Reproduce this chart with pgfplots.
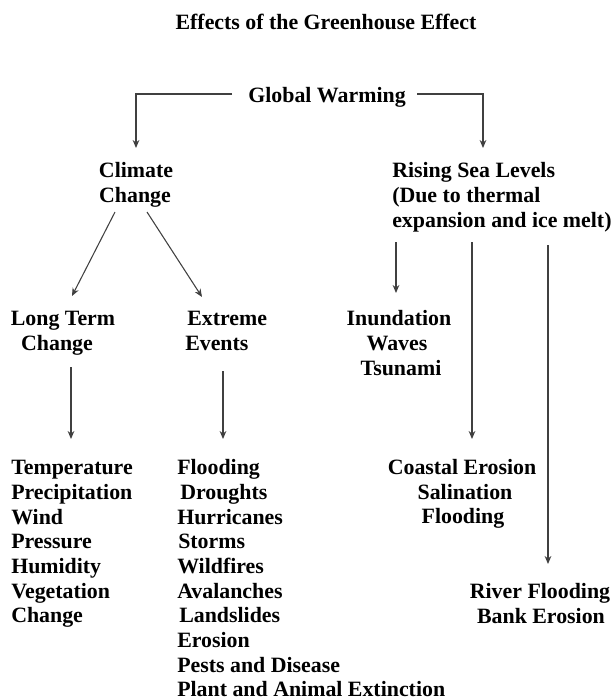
\documentclass[border=0pt]{standalone}
\usepackage{pgfplots}
\pgfplotsset{compat=1.18}
\usepackage{fontspec}
\setmainfont{Liberation Serif}
\usetikzlibrary{arrows.meta}
\begin{document}
\begin{tikzpicture}[lbl/.style={font=\fontsize{16.4}{18.5}\selectfont\bfseries, inner sep=0pt, text=black}]
\begin{axis}[scale only axis, width=457.5pt, height=525pt,
  xmin=0, xmax=610, ymin=0, ymax=700, y dir=reverse, hide axis, clip=false,
  every axis plot/.append style={line width=0.8pt, color=black!75, no markers}]
\addplot[draw=none] coordinates {(0,0) (610,700)};
% connectors
\addplot[-{Stealth[length=6pt,width=5pt]}] coordinates {(232,94) (136,94) (136,148)};
\addplot[-{Stealth[length=6pt,width=5pt]}] coordinates {(417,94) (483,94) (483,148)};
\addplot[-{Stealth[length=6pt,width=5pt]}] coordinates {(115,212) (72,296)};
\addplot[-{Stealth[length=6pt,width=5pt]}] coordinates {(147,212) (202,297)};
\addplot[-{Stealth[length=6pt,width=5pt]}] coordinates {(396,242) (396,293)};
\addplot[-{Stealth[length=6pt,width=5pt]}] coordinates {(472,242) (472,439)};
\addplot[-{Stealth[length=6pt,width=5pt]}] coordinates {(548,245) (548,564)};
\addplot[-{Stealth[length=6pt,width=5pt]}] coordinates {(71,367) (71,439)};
\addplot[-{Stealth[length=6pt,width=5pt]}] coordinates {(223,371) (223,439)};
% texts
\node[lbl, anchor=base] at (axis cs:326,29) {Effects of the Greenhouse Effect};
\node[lbl, anchor=base] at (axis cs:327,102) {Global Warming};
\node[lbl, anchor=base] at (axis cs:136,177) {Climate};
\node[lbl, anchor=base] at (axis cs:135,202) {Change};
\node[lbl, anchor=base west] at (axis cs:392,177) {Rising Sea Levels};
\node[lbl, anchor=base west] at (axis cs:392,202) {(Due to thermal};
\node[lbl, anchor=base west] at (axis cs:392,227) {expansion and ice melt)};
\node[lbl, anchor=base] at (axis cs:63,325) {Long Term};
\node[lbl, anchor=base] at (axis cs:57,350) {Change};
\node[lbl, anchor=base west] at (axis cs:187,325) {Extreme};
\node[lbl, anchor=base west] at (axis cs:185,350) {Events};
\node[lbl, anchor=base] at (axis cs:399,325) {Inundation};
\node[lbl, anchor=base] at (axis cs:397,350) {Waves};
\node[lbl, anchor=base] at (axis cs:401,375) {Tsunami};
% left list
\node[lbl, anchor=base west] at (axis cs:11,474) {Temperature};
\node[lbl, anchor=base west] at (axis cs:11,499) {Precipitation};
\node[lbl, anchor=base west] at (axis cs:11,524) {Wind};
\node[lbl, anchor=base west] at (axis cs:11,548) {Pressure};
\node[lbl, anchor=base west] at (axis cs:11,573) {Humidity};
\node[lbl, anchor=base west] at (axis cs:11,598) {Vegetation};
\node[lbl, anchor=base west] at (axis cs:11,622) {Change};
% middle list
\node[lbl, anchor=base west] at (axis cs:177,474) {Flooding};
\node[lbl, anchor=base west] at (axis cs:180,499) {Droughts};
\node[lbl, anchor=base west] at (axis cs:177,524) {Hurricanes};
\node[lbl, anchor=base west] at (axis cs:178,548) {Storms};
\node[lbl, anchor=base west] at (axis cs:177,573) {Wildfires};
\node[lbl, anchor=base west] at (axis cs:177,598) {Avalanches};
\node[lbl, anchor=base west] at (axis cs:179,622) {Landslides};
\node[lbl, anchor=base west] at (axis cs:177,647) {Erosion};
\node[lbl, anchor=base west] at (axis cs:177,672) {Pests and Disease};
\node[lbl, anchor=base west] at (axis cs:177,696) {Plant and Animal Extinction};
% coastal
\node[lbl, anchor=base] at (axis cs:462,474) {Coastal Erosion};
\node[lbl, anchor=base] at (axis cs:465,499) {Salination};
\node[lbl, anchor=base] at (axis cs:463,523) {Flooding};
% river
\node[lbl, anchor=base] at (axis cs:540,598) {River Flooding};
\node[lbl, anchor=base] at (axis cs:541,623) {Bank Erosion};
\end{axis}
\end{tikzpicture}
\end{document}
